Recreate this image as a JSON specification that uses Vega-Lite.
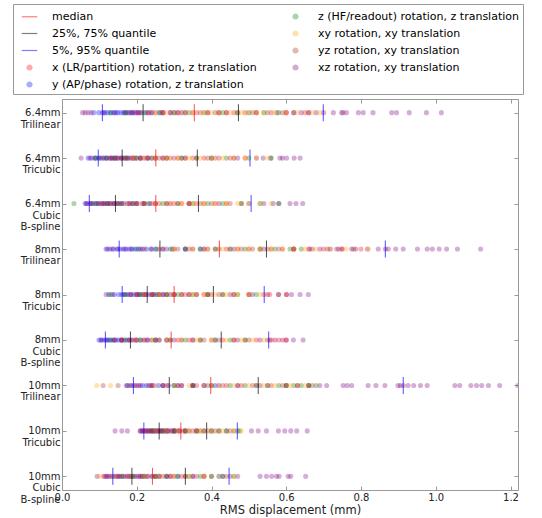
{
"$schema":"https://vega.github.io/schema/vega-lite/v6.json",
"autosize":{"type":"none"},
"width":456,"height":391,
"padding":{"left":62,"top":99,"right":24,"bottom":28},
"datasets":{
"pts":[
{"r":"A","t":"y","v":0.085},{"r":"A","t":"y","v":0.098},{"r":"A","t":"y","v":0.108},{"r":"A","t":"y","v":0.115},{"r":"A","t":"y","v":0.122},{"r":"A","t":"y","v":0.130},{"r":"A","t":"y","v":0.138},{"r":"A","t":"y","v":0.145},{"r":"A","t":"y","v":0.150},{"r":"A","t":"y","v":0.158},{"r":"A","t":"y","v":0.165},{"r":"A","t":"y","v":0.172},{"r":"A","t":"y","v":0.178},{"r":"A","t":"y","v":0.185},{"r":"A","t":"y","v":0.190},{"r":"A","t":"y","v":0.196},{"r":"A","t":"y","v":0.203},{"r":"A","t":"y","v":0.212},{"r":"A","t":"y","v":0.225},{"r":"A","t":"y","v":0.240},{"r":"A","t":"y","v":0.262},{"r":"A","t":"y","v":0.290},{"r":"A","t":"y","v":0.320},
{"r":"A","t":"xz","v":0.055},{"r":"A","t":"xz","v":0.062},{"r":"A","t":"xz","v":0.070},{"r":"A","t":"xz","v":0.078},{"r":"A","t":"xz","v":0.112},{"r":"A","t":"xz","v":0.140},{"r":"A","t":"xz","v":0.168},{"r":"A","t":"xz","v":0.188},{"r":"A","t":"xz","v":0.205},{"r":"A","t":"xz","v":0.232},{"r":"A","t":"xz","v":0.27},{"r":"A","t":"xz","v":0.31},{"r":"A","t":"xz","v":0.42},{"r":"A","t":"xz","v":0.52},{"r":"A","t":"xz","v":0.575},{"r":"A","t":"xz","v":0.60},{"r":"A","t":"xz","v":0.62},{"r":"A","t":"xz","v":0.64},{"r":"A","t":"xz","v":0.66},{"r":"A","t":"xz","v":0.68},{"r":"A","t":"xz","v":0.70},{"r":"A","t":"xz","v":0.726},{"r":"A","t":"xz","v":0.748},{"r":"A","t":"xz","v":0.752},{"r":"A","t":"xz","v":0.761},{"r":"A","t":"xz","v":0.793},{"r":"A","t":"xz","v":0.806},{"r":"A","t":"xz","v":0.832},{"r":"A","t":"xz","v":0.882},{"r":"A","t":"xz","v":0.895},{"r":"A","t":"xz","v":0.929},{"r":"A","t":"xz","v":0.975},{"r":"A","t":"xz","v":1.015},
{"r":"A","t":"x","v":0.20},{"r":"A","t":"x","v":0.23},{"r":"A","t":"x","v":0.25},{"r":"A","t":"x","v":0.27},{"r":"A","t":"x","v":0.29},{"r":"A","t":"x","v":0.31},{"r":"A","t":"x","v":0.33},{"r":"A","t":"x","v":0.35},{"r":"A","t":"x","v":0.37},{"r":"A","t":"x","v":0.39},{"r":"A","t":"x","v":0.42},{"r":"A","t":"x","v":0.44},{"r":"A","t":"x","v":0.46},{"r":"A","t":"x","v":0.49},{"r":"A","t":"x","v":0.52},{"r":"A","t":"x","v":0.56},{"r":"A","t":"x","v":0.60},{"r":"A","t":"x","v":0.65},
{"r":"A","t":"z","v":0.13},{"r":"A","t":"z","v":0.17},{"r":"A","t":"z","v":0.22},{"r":"A","t":"z","v":0.26},{"r":"A","t":"z","v":0.30},{"r":"A","t":"z","v":0.34},{"r":"A","t":"z","v":0.38},{"r":"A","t":"z","v":0.43},{"r":"A","t":"z","v":0.47},{"r":"A","t":"z","v":0.50},{"r":"A","t":"z","v":0.54},{"r":"A","t":"z","v":0.58},
{"r":"A","t":"xy","v":0.25},{"r":"A","t":"xy","v":0.28},{"r":"A","t":"xy","v":0.32},{"r":"A","t":"xy","v":0.35},{"r":"A","t":"xy","v":0.38},{"r":"A","t":"xy","v":0.40},{"r":"A","t":"xy","v":0.42},{"r":"A","t":"xy","v":0.45},{"r":"A","t":"xy","v":0.48},{"r":"A","t":"xy","v":0.50},{"r":"A","t":"xy","v":0.52},{"r":"A","t":"xy","v":0.54},{"r":"A","t":"xy","v":0.57},{"r":"A","t":"xy","v":0.60},{"r":"A","t":"xy","v":0.63},{"r":"A","t":"xy","v":0.67},{"r":"A","t":"xy","v":0.69},
{"r":"A","t":"yz","v":0.18},{"r":"A","t":"yz","v":0.21},{"r":"A","t":"yz","v":0.24},{"r":"A","t":"yz","v":0.27},{"r":"A","t":"yz","v":0.30},{"r":"A","t":"yz","v":0.33},{"r":"A","t":"yz","v":0.36},{"r":"A","t":"yz","v":0.39},{"r":"A","t":"yz","v":0.41},{"r":"A","t":"yz","v":0.44},{"r":"A","t":"yz","v":0.47},{"r":"A","t":"yz","v":0.51},{"r":"A","t":"yz","v":0.55},{"r":"A","t":"yz","v":0.59},{"r":"A","t":"yz","v":0.62},{"r":"A","t":"yz","v":0.66},

{"r":"B","t":"y","v":0.070},{"r":"B","t":"y","v":0.080},{"r":"B","t":"y","v":0.090},{"r":"B","t":"y","v":0.098},{"r":"B","t":"y","v":0.105},{"r":"B","t":"y","v":0.112},{"r":"B","t":"y","v":0.120},{"r":"B","t":"y","v":0.128},{"r":"B","t":"y","v":0.135},{"r":"B","t":"y","v":0.142},{"r":"B","t":"y","v":0.150},{"r":"B","t":"y","v":0.158},{"r":"B","t":"y","v":0.166},{"r":"B","t":"y","v":0.175},{"r":"B","t":"y","v":0.185},{"r":"B","t":"y","v":0.195},{"r":"B","t":"y","v":0.210},{"r":"B","t":"y","v":0.228},{"r":"B","t":"y","v":0.250},
{"r":"B","t":"xz","v":0.051},{"r":"B","t":"xz","v":0.075},{"r":"B","t":"xz","v":0.088},{"r":"B","t":"xz","v":0.100},{"r":"B","t":"xz","v":0.118},{"r":"B","t":"xz","v":0.132},{"r":"B","t":"xz","v":0.145},{"r":"B","t":"xz","v":0.16},{"r":"B","t":"xz","v":0.175},{"r":"B","t":"xz","v":0.19},{"r":"B","t":"xz","v":0.21},{"r":"B","t":"xz","v":0.23},{"r":"B","t":"xz","v":0.27},{"r":"B","t":"xz","v":0.32},{"r":"B","t":"xz","v":0.40},{"r":"B","t":"xz","v":0.47},{"r":"B","t":"xz","v":0.52},{"r":"B","t":"xz","v":0.538},{"r":"B","t":"xz","v":0.558},{"r":"B","t":"xz","v":0.583},{"r":"B","t":"xz","v":0.590},{"r":"B","t":"xz","v":0.601},{"r":"B","t":"xz","v":0.621},{"r":"B","t":"xz","v":0.637},
{"r":"B","t":"x","v":0.13},{"r":"B","t":"x","v":0.15},{"r":"B","t":"x","v":0.17},{"r":"B","t":"x","v":0.19},{"r":"B","t":"x","v":0.21},{"r":"B","t":"x","v":0.23},{"r":"B","t":"x","v":0.25},{"r":"B","t":"x","v":0.27},{"r":"B","t":"x","v":0.29},{"r":"B","t":"x","v":0.31},{"r":"B","t":"x","v":0.33},{"r":"B","t":"x","v":0.35},{"r":"B","t":"x","v":0.38},{"r":"B","t":"x","v":0.41},{"r":"B","t":"x","v":0.45},{"r":"B","t":"x","v":0.49},
{"r":"B","t":"z","v":0.09},{"r":"B","t":"z","v":0.12},{"r":"B","t":"z","v":0.14},{"r":"B","t":"z","v":0.17},{"r":"B","t":"z","v":0.20},{"r":"B","t":"z","v":0.24},{"r":"B","t":"z","v":0.28},{"r":"B","t":"z","v":0.32},{"r":"B","t":"z","v":0.36},{"r":"B","t":"z","v":0.40},{"r":"B","t":"z","v":0.44},{"r":"B","t":"z","v":0.50},{"r":"B","t":"z","v":0.56},
{"r":"B","t":"xy","v":0.19},{"r":"B","t":"xy","v":0.22},{"r":"B","t":"xy","v":0.25},{"r":"B","t":"xy","v":0.28},{"r":"B","t":"xy","v":0.31},{"r":"B","t":"xy","v":0.34},{"r":"B","t":"xy","v":0.37},{"r":"B","t":"xy","v":0.40},{"r":"B","t":"xy","v":0.43},{"r":"B","t":"xy","v":0.46},{"r":"B","t":"xy","v":0.49},{"r":"B","t":"xy","v":0.52},{"r":"B","t":"xy","v":0.55},
{"r":"B","t":"yz","v":0.11},{"r":"B","t":"yz","v":0.14},{"r":"B","t":"yz","v":0.16},{"r":"B","t":"yz","v":0.18},{"r":"B","t":"yz","v":0.20},{"r":"B","t":"yz","v":0.22},{"r":"B","t":"yz","v":0.24},{"r":"B","t":"yz","v":0.26},{"r":"B","t":"yz","v":0.28},{"r":"B","t":"yz","v":0.30},{"r":"B","t":"yz","v":0.33},{"r":"B","t":"yz","v":0.36},{"r":"B","t":"yz","v":0.39},{"r":"B","t":"yz","v":0.42},{"r":"B","t":"yz","v":0.46},

{"r":"C","t":"y","v":0.062},{"r":"C","t":"y","v":0.068},{"r":"C","t":"y","v":0.075},{"r":"C","t":"y","v":0.082},{"r":"C","t":"y","v":0.090},{"r":"C","t":"y","v":0.098},{"r":"C","t":"y","v":0.106},{"r":"C","t":"y","v":0.114},{"r":"C","t":"y","v":0.122},{"r":"C","t":"y","v":0.130},{"r":"C","t":"y","v":0.138},{"r":"C","t":"y","v":0.146},{"r":"C","t":"y","v":0.155},{"r":"C","t":"y","v":0.165},{"r":"C","t":"y","v":0.175},{"r":"C","t":"y","v":0.188},{"r":"C","t":"y","v":0.200},{"r":"C","t":"y","v":0.215},{"r":"C","t":"y","v":0.235},
{"r":"C","t":"xz","v":0.065},{"r":"C","t":"xz","v":0.078},{"r":"C","t":"xz","v":0.095},{"r":"C","t":"xz","v":0.110},{"r":"C","t":"xz","v":0.125},{"r":"C","t":"xz","v":0.140},{"r":"C","t":"xz","v":0.16},{"r":"C","t":"xz","v":0.18},{"r":"C","t":"xz","v":0.20},{"r":"C","t":"xz","v":0.22},{"r":"C","t":"xz","v":0.25},{"r":"C","t":"xz","v":0.29},{"r":"C","t":"xz","v":0.34},{"r":"C","t":"xz","v":0.42},{"r":"C","t":"xz","v":0.50},{"r":"C","t":"xz","v":0.54},{"r":"C","t":"xz","v":0.565},{"r":"C","t":"xz","v":0.58},{"r":"C","t":"xz","v":0.61},{"r":"C","t":"xz","v":0.626},{"r":"C","t":"xz","v":0.644},
{"r":"C","t":"x","v":0.11},{"r":"C","t":"x","v":0.13},{"r":"C","t":"x","v":0.15},{"r":"C","t":"x","v":0.18},{"r":"C","t":"x","v":0.20},{"r":"C","t":"x","v":0.22},{"r":"C","t":"x","v":0.24},{"r":"C","t":"x","v":0.26},{"r":"C","t":"x","v":0.28},{"r":"C","t":"x","v":0.30},{"r":"C","t":"x","v":0.32},{"r":"C","t":"x","v":0.34},{"r":"C","t":"x","v":0.36},{"r":"C","t":"x","v":0.38},{"r":"C","t":"x","v":0.41},{"r":"C","t":"x","v":0.44},{"r":"C","t":"x","v":0.48},
{"r":"C","t":"z","v":0.032},{"r":"C","t":"z","v":0.09},{"r":"C","t":"z","v":0.12},{"r":"C","t":"z","v":0.15},{"r":"C","t":"z","v":0.19},{"r":"C","t":"z","v":0.23},{"r":"C","t":"z","v":0.27},{"r":"C","t":"z","v":0.31},{"r":"C","t":"z","v":0.35},{"r":"C","t":"z","v":0.39},{"r":"C","t":"z","v":0.43},{"r":"C","t":"z","v":0.48},{"r":"C","t":"z","v":0.53},{"r":"C","t":"z","v":0.58},
{"r":"C","t":"xy","v":0.17},{"r":"C","t":"xy","v":0.21},{"r":"C","t":"xy","v":0.25},{"r":"C","t":"xy","v":0.29},{"r":"C","t":"xy","v":0.32},{"r":"C","t":"xy","v":0.35},{"r":"C","t":"xy","v":0.38},{"r":"C","t":"xy","v":0.41},{"r":"C","t":"xy","v":0.44},{"r":"C","t":"xy","v":0.47},{"r":"C","t":"xy","v":0.50},{"r":"C","t":"xy","v":0.53},{"r":"C","t":"xy","v":0.56},
{"r":"C","t":"yz","v":0.08},{"r":"C","t":"yz","v":0.10},{"r":"C","t":"yz","v":0.12},{"r":"C","t":"yz","v":0.14},{"r":"C","t":"yz","v":0.16},{"r":"C","t":"yz","v":0.19},{"r":"C","t":"yz","v":0.22},{"r":"C","t":"yz","v":0.25},{"r":"C","t":"yz","v":0.28},{"r":"C","t":"yz","v":0.31},{"r":"C","t":"yz","v":0.34},{"r":"C","t":"yz","v":0.37},{"r":"C","t":"yz","v":0.40},{"r":"C","t":"yz","v":0.45},

{"r":"D","t":"y","v":0.118},{"r":"D","t":"y","v":0.128},{"r":"D","t":"y","v":0.138},{"r":"D","t":"y","v":0.148},{"r":"D","t":"y","v":0.156},{"r":"D","t":"y","v":0.164},{"r":"D","t":"y","v":0.172},{"r":"D","t":"y","v":0.180},{"r":"D","t":"y","v":0.188},{"r":"D","t":"y","v":0.196},{"r":"D","t":"y","v":0.205},{"r":"D","t":"y","v":0.215},{"r":"D","t":"y","v":0.226},{"r":"D","t":"y","v":0.238},{"r":"D","t":"y","v":0.252},{"r":"D","t":"y","v":0.270},{"r":"D","t":"y","v":0.295},{"r":"D","t":"y","v":0.33},{"r":"D","t":"y","v":0.37},
{"r":"D","t":"xz","v":0.122},{"r":"D","t":"xz","v":0.135},{"r":"D","t":"xz","v":0.150},{"r":"D","t":"xz","v":0.168},{"r":"D","t":"xz","v":0.185},{"r":"D","t":"xz","v":0.21},{"r":"D","t":"xz","v":0.24},{"r":"D","t":"xz","v":0.28},{"r":"D","t":"xz","v":0.33},{"r":"D","t":"xz","v":0.39},{"r":"D","t":"xz","v":0.46},{"r":"D","t":"xz","v":0.54},{"r":"D","t":"xz","v":0.62},{"r":"D","t":"xz","v":0.663},{"r":"D","t":"xz","v":0.690},{"r":"D","t":"xz","v":0.717},{"r":"D","t":"xz","v":0.735},{"r":"D","t":"xz","v":0.748},{"r":"D","t":"xz","v":0.775},{"r":"D","t":"xz","v":0.786},{"r":"D","t":"xz","v":0.817},{"r":"D","t":"xz","v":0.846},{"r":"D","t":"xz","v":0.865},{"r":"D","t":"xz","v":0.873},{"r":"D","t":"xz","v":0.893},{"r":"D","t":"xz","v":0.913},{"r":"D","t":"xz","v":0.951},{"r":"D","t":"xz","v":0.977},{"r":"D","t":"xz","v":0.991},{"r":"D","t":"xz","v":1.009},{"r":"D","t":"xz","v":1.029},{"r":"D","t":"xz","v":1.058},{"r":"D","t":"xz","v":1.120},
{"r":"D","t":"x","v":0.26},{"r":"D","t":"x","v":0.30},{"r":"D","t":"x","v":0.34},{"r":"D","t":"x","v":0.38},{"r":"D","t":"x","v":0.41},{"r":"D","t":"x","v":0.44},{"r":"D","t":"x","v":0.47},{"r":"D","t":"x","v":0.50},{"r":"D","t":"x","v":0.53},{"r":"D","t":"x","v":0.56},{"r":"D","t":"x","v":0.59},{"r":"D","t":"x","v":0.62},{"r":"D","t":"x","v":0.66},{"r":"D","t":"x","v":0.70},{"r":"D","t":"x","v":0.75},{"r":"D","t":"x","v":0.80},
{"r":"D","t":"z","v":0.20},{"r":"D","t":"z","v":0.25},{"r":"D","t":"z","v":0.29},{"r":"D","t":"z","v":0.33},{"r":"D","t":"z","v":0.37},{"r":"D","t":"z","v":0.41},{"r":"D","t":"z","v":0.45},{"r":"D","t":"z","v":0.49},{"r":"D","t":"z","v":0.53},{"r":"D","t":"z","v":0.57},{"r":"D","t":"z","v":0.61},{"r":"D","t":"z","v":0.64},
{"r":"D","t":"xy","v":0.30},{"r":"D","t":"xy","v":0.35},{"r":"D","t":"xy","v":0.39},{"r":"D","t":"xy","v":0.43},{"r":"D","t":"xy","v":0.47},{"r":"D","t":"xy","v":0.50},{"r":"D","t":"xy","v":0.53},{"r":"D","t":"xy","v":0.56},{"r":"D","t":"xy","v":0.59},{"r":"D","t":"xy","v":0.62},{"r":"D","t":"xy","v":0.65},{"r":"D","t":"xy","v":0.68},{"r":"D","t":"xy","v":0.72},{"r":"D","t":"xy","v":0.76},{"r":"D","t":"xy","v":0.82},
{"r":"D","t":"yz","v":0.22},{"r":"D","t":"yz","v":0.27},{"r":"D","t":"yz","v":0.31},{"r":"D","t":"yz","v":0.35},{"r":"D","t":"yz","v":0.38},{"r":"D","t":"yz","v":0.42},{"r":"D","t":"yz","v":0.45},{"r":"D","t":"yz","v":0.48},{"r":"D","t":"yz","v":0.51},{"r":"D","t":"yz","v":0.55},{"r":"D","t":"yz","v":0.58},{"r":"D","t":"yz","v":0.62},{"r":"D","t":"yz","v":0.67},{"r":"D","t":"yz","v":0.71},{"r":"D","t":"yz","v":0.74},{"r":"D","t":"yz","v":0.78},

{"r":"E","t":"y","v":0.125},{"r":"E","t":"y","v":0.140},{"r":"E","t":"y","v":0.152},{"r":"E","t":"y","v":0.160},{"r":"E","t":"y","v":0.168},{"r":"E","t":"y","v":0.176},{"r":"E","t":"y","v":0.184},{"r":"E","t":"y","v":0.192},{"r":"E","t":"y","v":0.200},{"r":"E","t":"y","v":0.208},{"r":"E","t":"y","v":0.216},{"r":"E","t":"y","v":0.224},{"r":"E","t":"y","v":0.232},{"r":"E","t":"y","v":0.242},{"r":"E","t":"y","v":0.255},{"r":"E","t":"y","v":0.270},{"r":"E","t":"y","v":0.29},{"r":"E","t":"y","v":0.32},
{"r":"E","t":"xz","v":0.118},{"r":"E","t":"xz","v":0.135},{"r":"E","t":"xz","v":0.165},{"r":"E","t":"xz","v":0.185},{"r":"E","t":"xz","v":0.205},{"r":"E","t":"xz","v":0.225},{"r":"E","t":"xz","v":0.245},{"r":"E","t":"xz","v":0.27},{"r":"E","t":"xz","v":0.30},{"r":"E","t":"xz","v":0.34},{"r":"E","t":"xz","v":0.39},{"r":"E","t":"xz","v":0.45},{"r":"E","t":"xz","v":0.51},{"r":"E","t":"xz","v":0.55},{"r":"E","t":"xz","v":0.579},{"r":"E","t":"xz","v":0.601},{"r":"E","t":"xz","v":0.614},{"r":"E","t":"xz","v":0.637},{"r":"E","t":"xz","v":0.659},
{"r":"E","t":"x","v":0.20},{"r":"E","t":"x","v":0.22},{"r":"E","t":"x","v":0.24},{"r":"E","t":"x","v":0.26},{"r":"E","t":"x","v":0.28},{"r":"E","t":"x","v":0.30},{"r":"E","t":"x","v":0.32},{"r":"E","t":"x","v":0.34},{"r":"E","t":"x","v":0.36},{"r":"E","t":"x","v":0.38},{"r":"E","t":"x","v":0.40},{"r":"E","t":"x","v":0.43},{"r":"E","t":"x","v":0.46},{"r":"E","t":"x","v":0.50},{"r":"E","t":"x","v":0.54},{"r":"E","t":"x","v":0.556},{"r":"E","t":"x","v":0.60},
{"r":"E","t":"z","v":0.13},{"r":"E","t":"z","v":0.17},{"r":"E","t":"z","v":0.21},{"r":"E","t":"z","v":0.25},{"r":"E","t":"z","v":0.28},{"r":"E","t":"z","v":0.31},{"r":"E","t":"z","v":0.35},{"r":"E","t":"z","v":0.39},{"r":"E","t":"z","v":0.43},{"r":"E","t":"z","v":0.47},{"r":"E","t":"z","v":0.52},
{"r":"E","t":"xy","v":0.22},{"r":"E","t":"xy","v":0.26},{"r":"E","t":"xy","v":0.29},{"r":"E","t":"xy","v":0.32},{"r":"E","t":"xy","v":0.35},{"r":"E","t":"xy","v":0.38},{"r":"E","t":"xy","v":0.41},{"r":"E","t":"xy","v":0.44},{"r":"E","t":"xy","v":0.47},{"r":"E","t":"xy","v":0.50},{"r":"E","t":"xy","v":0.53},
{"r":"E","t":"yz","v":0.18},{"r":"E","t":"yz","v":0.20},{"r":"E","t":"yz","v":0.22},{"r":"E","t":"yz","v":0.24},{"r":"E","t":"yz","v":0.26},{"r":"E","t":"yz","v":0.28},{"r":"E","t":"yz","v":0.30},{"r":"E","t":"yz","v":0.33},{"r":"E","t":"yz","v":0.36},{"r":"E","t":"yz","v":0.39},{"r":"E","t":"yz","v":0.42},{"r":"E","t":"yz","v":0.46},{"r":"E","t":"yz","v":0.50},{"r":"E","t":"yz","v":0.58},

{"r":"F","t":"y","v":0.099},{"r":"F","t":"y","v":0.106},{"r":"F","t":"y","v":0.112},{"r":"F","t":"y","v":0.118},{"r":"F","t":"y","v":0.124},{"r":"F","t":"y","v":0.130},{"r":"F","t":"y","v":0.137},{"r":"F","t":"y","v":0.144},{"r":"F","t":"y","v":0.151},{"r":"F","t":"y","v":0.158},{"r":"F","t":"y","v":0.166},{"r":"F","t":"y","v":0.175},{"r":"F","t":"y","v":0.185},{"r":"F","t":"y","v":0.196},{"r":"F","t":"y","v":0.210},{"r":"F","t":"y","v":0.228},{"r":"F","t":"y","v":0.25},{"r":"F","t":"y","v":0.28},
{"r":"F","t":"xz","v":0.104},{"r":"F","t":"xz","v":0.120},{"r":"F","t":"xz","v":0.140},{"r":"F","t":"xz","v":0.16},{"r":"F","t":"xz","v":0.18},{"r":"F","t":"xz","v":0.20},{"r":"F","t":"xz","v":0.23},{"r":"F","t":"xz","v":0.26},{"r":"F","t":"xz","v":0.30},{"r":"F","t":"xz","v":0.35},{"r":"F","t":"xz","v":0.41},{"r":"F","t":"xz","v":0.47},{"r":"F","t":"xz","v":0.53},{"r":"F","t":"xz","v":0.556},{"r":"F","t":"xz","v":0.57},{"r":"F","t":"xz","v":0.59},{"r":"F","t":"xz","v":0.60},{"r":"F","t":"xz","v":0.619},{"r":"F","t":"xz","v":0.645},
{"r":"F","t":"x","v":0.16},{"r":"F","t":"x","v":0.19},{"r":"F","t":"x","v":0.22},{"r":"F","t":"x","v":0.25},{"r":"F","t":"x","v":0.28},{"r":"F","t":"x","v":0.31},{"r":"F","t":"x","v":0.34},{"r":"F","t":"x","v":0.37},{"r":"F","t":"x","v":0.40},{"r":"F","t":"x","v":0.43},{"r":"F","t":"x","v":0.46},{"r":"F","t":"x","v":0.49},{"r":"F","t":"x","v":0.52},{"r":"F","t":"x","v":0.56},{"r":"F","t":"x","v":0.58},{"r":"F","t":"x","v":0.60},
{"r":"F","t":"z","v":0.13},{"r":"F","t":"z","v":0.17},{"r":"F","t":"z","v":0.21},{"r":"F","t":"z","v":0.25},{"r":"F","t":"z","v":0.29},{"r":"F","t":"z","v":0.33},{"r":"F","t":"z","v":0.37},{"r":"F","t":"z","v":0.41},{"r":"F","t":"z","v":0.45},{"r":"F","t":"z","v":0.49},
{"r":"F","t":"xy","v":0.20},{"r":"F","t":"xy","v":0.24},{"r":"F","t":"xy","v":0.28},{"r":"F","t":"xy","v":0.32},{"r":"F","t":"xy","v":0.36},{"r":"F","t":"xy","v":0.40},{"r":"F","t":"xy","v":0.44},{"r":"F","t":"xy","v":0.48},{"r":"F","t":"xy","v":0.51},{"r":"F","t":"xy","v":0.54},
{"r":"F","t":"yz","v":0.14},{"r":"F","t":"yz","v":0.16},{"r":"F","t":"yz","v":0.18},{"r":"F","t":"yz","v":0.20},{"r":"F","t":"yz","v":0.22},{"r":"F","t":"yz","v":0.24},{"r":"F","t":"yz","v":0.26},{"r":"F","t":"yz","v":0.29},{"r":"F","t":"yz","v":0.32},{"r":"F","t":"yz","v":0.35},{"r":"F","t":"yz","v":0.38},{"r":"F","t":"yz","v":0.42},{"r":"F","t":"yz","v":0.46},{"r":"F","t":"yz","v":0.50},{"r":"F","t":"yz","v":0.55},

{"r":"G","t":"y","v":0.175},{"r":"G","t":"y","v":0.185},{"r":"G","t":"y","v":0.195},{"r":"G","t":"y","v":0.205},{"r":"G","t":"y","v":0.215},{"r":"G","t":"y","v":0.225},{"r":"G","t":"y","v":0.235},{"r":"G","t":"y","v":0.245},{"r":"G","t":"y","v":0.258},{"r":"G","t":"y","v":0.270},{"r":"G","t":"y","v":0.285},{"r":"G","t":"y","v":0.30},{"r":"G","t":"y","v":0.32},{"r":"G","t":"y","v":0.35},{"r":"G","t":"y","v":0.38},{"r":"G","t":"y","v":0.41},
{"r":"G","t":"xz","v":0.172},{"r":"G","t":"xz","v":0.19},{"r":"G","t":"xz","v":0.21},{"r":"G","t":"xz","v":0.24},{"r":"G","t":"xz","v":0.27},{"r":"G","t":"xz","v":0.31},{"r":"G","t":"xz","v":0.35},{"r":"G","t":"xz","v":0.38},{"r":"G","t":"xz","v":0.42},{"r":"G","t":"xz","v":0.47},{"r":"G","t":"xz","v":0.53},{"r":"G","t":"xz","v":0.60},{"r":"G","t":"xz","v":0.66},{"r":"G","t":"xz","v":0.690},{"r":"G","t":"xz","v":0.708},{"r":"G","t":"xz","v":0.752},{"r":"G","t":"xz","v":0.763},{"r":"G","t":"xz","v":0.775},{"r":"G","t":"xz","v":0.819},{"r":"G","t":"xz","v":0.840},{"r":"G","t":"xz","v":0.864},{"r":"G","t":"xz","v":0.899},{"r":"G","t":"xz","v":0.905},{"r":"G","t":"xz","v":0.913},{"r":"G","t":"xz","v":0.926},{"r":"G","t":"xz","v":0.941},{"r":"G","t":"xz","v":0.959},{"r":"G","t":"xz","v":0.977},{"r":"G","t":"xz","v":1.051},{"r":"G","t":"xz","v":1.064},{"r":"G","t":"xz","v":1.094},{"r":"G","t":"xz","v":1.109},{"r":"G","t":"xz","v":1.123},{"r":"G","t":"xz","v":1.141},{"r":"G","t":"xz","v":1.171},{"r":"G","t":"xz","v":1.220},
{"r":"G","t":"x","v":0.20},{"r":"G","t":"x","v":0.24},{"r":"G","t":"x","v":0.28},{"r":"G","t":"x","v":0.32},{"r":"G","t":"x","v":0.36},{"r":"G","t":"x","v":0.40},{"r":"G","t":"x","v":0.44},{"r":"G","t":"x","v":0.48},{"r":"G","t":"x","v":0.52},{"r":"G","t":"x","v":0.56},{"r":"G","t":"x","v":0.60},{"r":"G","t":"x","v":0.63},{"r":"G","t":"x","v":0.66},
{"r":"G","t":"z","v":0.30},{"r":"G","t":"z","v":0.35},{"r":"G","t":"z","v":0.40},{"r":"G","t":"z","v":0.45},{"r":"G","t":"z","v":0.49},{"r":"G","t":"z","v":0.52},{"r":"G","t":"z","v":0.55},{"r":"G","t":"z","v":0.58},{"r":"G","t":"z","v":0.60},{"r":"G","t":"z","v":0.62},{"r":"G","t":"z","v":0.64},{"r":"G","t":"z","v":0.66},{"r":"G","t":"z","v":0.68},
{"r":"G","t":"xy","v":0.093},{"r":"G","t":"xy","v":0.13},{"r":"G","t":"xy","v":0.25},{"r":"G","t":"xy","v":0.30},{"r":"G","t":"xy","v":0.34},{"r":"G","t":"xy","v":0.38},{"r":"G","t":"xy","v":0.42},{"r":"G","t":"xy","v":0.46},{"r":"G","t":"xy","v":0.50},{"r":"G","t":"xy","v":0.54},{"r":"G","t":"xy","v":0.57},{"r":"G","t":"xy","v":0.61},{"r":"G","t":"xy","v":0.65},
{"r":"G","t":"yz","v":0.11},{"r":"G","t":"yz","v":0.15},{"r":"G","t":"yz","v":0.18},{"r":"G","t":"yz","v":0.23},{"r":"G","t":"yz","v":0.27},{"r":"G","t":"yz","v":0.31},{"r":"G","t":"yz","v":0.35},{"r":"G","t":"yz","v":0.39},{"r":"G","t":"yz","v":0.43},{"r":"G","t":"yz","v":0.47},{"r":"G","t":"yz","v":0.51},{"r":"G","t":"yz","v":0.55},{"r":"G","t":"yz","v":0.59},{"r":"G","t":"yz","v":0.63},{"r":"G","t":"yz","v":0.67},

{"r":"H","t":"y","v":0.209},{"r":"H","t":"y","v":0.214},{"r":"H","t":"y","v":0.220},{"r":"H","t":"y","v":0.226},{"r":"H","t":"y","v":0.232},{"r":"H","t":"y","v":0.238},{"r":"H","t":"y","v":0.244},{"r":"H","t":"y","v":0.250},{"r":"H","t":"y","v":0.256},{"r":"H","t":"y","v":0.262},{"r":"H","t":"y","v":0.268},{"r":"H","t":"y","v":0.275},{"r":"H","t":"y","v":0.283},{"r":"H","t":"y","v":0.292},{"r":"H","t":"y","v":0.302},{"r":"H","t":"y","v":0.315},
{"r":"H","t":"xz","v":0.142},{"r":"H","t":"xz","v":0.16},{"r":"H","t":"xz","v":0.175},{"r":"H","t":"xz","v":0.215},{"r":"H","t":"xz","v":0.23},{"r":"H","t":"xz","v":0.245},{"r":"H","t":"xz","v":0.26},{"r":"H","t":"xz","v":0.28},{"r":"H","t":"xz","v":0.30},{"r":"H","t":"xz","v":0.33},{"r":"H","t":"xz","v":0.36},{"r":"H","t":"xz","v":0.40},{"r":"H","t":"xz","v":0.44},{"r":"H","t":"xz","v":0.47},{"r":"H","t":"xz","v":0.507},{"r":"H","t":"xz","v":0.525},{"r":"H","t":"xz","v":0.547},{"r":"H","t":"xz","v":0.579},{"r":"H","t":"xz","v":0.596},{"r":"H","t":"xz","v":0.612},{"r":"H","t":"xz","v":0.628},{"r":"H","t":"xz","v":0.656},
{"r":"H","t":"x","v":0.21},{"r":"H","t":"x","v":0.225},{"r":"H","t":"x","v":0.24},{"r":"H","t":"x","v":0.255},{"r":"H","t":"x","v":0.27},{"r":"H","t":"x","v":0.285},{"r":"H","t":"x","v":0.30},{"r":"H","t":"x","v":0.315},{"r":"H","t":"x","v":0.33},{"r":"H","t":"x","v":0.35},{"r":"H","t":"x","v":0.37},{"r":"H","t":"x","v":0.39},{"r":"H","t":"x","v":0.42},{"r":"H","t":"x","v":0.45},
{"r":"H","t":"z","v":0.24},{"r":"H","t":"z","v":0.27},{"r":"H","t":"z","v":0.30},{"r":"H","t":"z","v":0.33},{"r":"H","t":"z","v":0.36},{"r":"H","t":"z","v":0.38},{"r":"H","t":"z","v":0.40},{"r":"H","t":"z","v":0.42},{"r":"H","t":"z","v":0.44},{"r":"H","t":"z","v":0.46},{"r":"H","t":"z","v":0.475},
{"r":"H","t":"xy","v":0.25},{"r":"H","t":"xy","v":0.28},{"r":"H","t":"xy","v":0.31},{"r":"H","t":"xy","v":0.34},{"r":"H","t":"xy","v":0.37},{"r":"H","t":"xy","v":0.40},{"r":"H","t":"xy","v":0.43},{"r":"H","t":"xy","v":0.46},{"r":"H","t":"xy","v":0.48},
{"r":"H","t":"yz","v":0.22},{"r":"H","t":"yz","v":0.235},{"r":"H","t":"yz","v":0.25},{"r":"H","t":"yz","v":0.265},{"r":"H","t":"yz","v":0.28},{"r":"H","t":"yz","v":0.295},{"r":"H","t":"yz","v":0.31},{"r":"H","t":"yz","v":0.325},{"r":"H","t":"yz","v":0.34},{"r":"H","t":"yz","v":0.36},{"r":"H","t":"yz","v":0.38},{"r":"H","t":"yz","v":0.41},

{"r":"I","t":"y","v":0.115},{"r":"I","t":"y","v":0.125},{"r":"I","t":"y","v":0.135},{"r":"I","t":"y","v":0.145},{"r":"I","t":"y","v":0.155},{"r":"I","t":"y","v":0.165},{"r":"I","t":"y","v":0.175},{"r":"I","t":"y","v":0.185},{"r":"I","t":"y","v":0.195},{"r":"I","t":"y","v":0.205},{"r":"I","t":"y","v":0.215},{"r":"I","t":"y","v":0.228},{"r":"I","t":"y","v":0.242},{"r":"I","t":"y","v":0.26},{"r":"I","t":"y","v":0.28},{"r":"I","t":"y","v":0.31},{"r":"I","t":"y","v":0.35},{"r":"I","t":"y","v":0.42},
{"r":"I","t":"xz","v":0.094},{"r":"I","t":"xz","v":0.12},{"r":"I","t":"xz","v":0.15},{"r":"I","t":"xz","v":0.18},{"r":"I","t":"xz","v":0.21},{"r":"I","t":"xz","v":0.25},{"r":"I","t":"xz","v":0.29},{"r":"I","t":"xz","v":0.33},{"r":"I","t":"xz","v":0.38},{"r":"I","t":"xz","v":0.43},{"r":"I","t":"xz","v":0.45},{"r":"I","t":"xz","v":0.47},{"r":"I","t":"xz","v":0.530},{"r":"I","t":"xz","v":0.547},{"r":"I","t":"xz","v":0.561},{"r":"I","t":"xz","v":0.574},{"r":"I","t":"xz","v":0.581},{"r":"I","t":"xz","v":0.605},{"r":"I","t":"xz","v":0.612},{"r":"I","t":"xz","v":0.652},
{"r":"I","t":"x","v":0.111},{"r":"I","t":"x","v":0.13},{"r":"I","t":"x","v":0.15},{"r":"I","t":"x","v":0.17},{"r":"I","t":"x","v":0.19},{"r":"I","t":"x","v":0.21},{"r":"I","t":"x","v":0.23},{"r":"I","t":"x","v":0.25},{"r":"I","t":"x","v":0.27},{"r":"I","t":"x","v":0.29},{"r":"I","t":"x","v":0.32},{"r":"I","t":"x","v":0.35},{"r":"I","t":"x","v":0.38},
{"r":"I","t":"z","v":0.16},{"r":"I","t":"z","v":0.19},{"r":"I","t":"z","v":0.22},{"r":"I","t":"z","v":0.25},{"r":"I","t":"z","v":0.28},{"r":"I","t":"z","v":0.31},{"r":"I","t":"z","v":0.34},{"r":"I","t":"z","v":0.37},{"r":"I","t":"z","v":0.40},{"r":"I","t":"z","v":0.43},{"r":"I","t":"z","v":0.46},
{"r":"I","t":"xy","v":0.10},{"r":"I","t":"xy","v":0.14},{"r":"I","t":"xy","v":0.18},{"r":"I","t":"xy","v":0.22},{"r":"I","t":"xy","v":0.26},{"r":"I","t":"xy","v":0.30},{"r":"I","t":"xy","v":0.34},{"r":"I","t":"xy","v":0.38},{"r":"I","t":"xy","v":0.42},{"r":"I","t":"xy","v":0.46},
{"r":"I","t":"yz","v":0.12},{"r":"I","t":"yz","v":0.14},{"r":"I","t":"yz","v":0.16},{"r":"I","t":"yz","v":0.18},{"r":"I","t":"yz","v":0.20},{"r":"I","t":"yz","v":0.22},{"r":"I","t":"yz","v":0.24},{"r":"I","t":"yz","v":0.26},{"r":"I","t":"yz","v":0.28},{"r":"I","t":"yz","v":0.30},{"r":"I","t":"yz","v":0.33},{"r":"I","t":"yz","v":0.36},{"r":"I","t":"yz","v":0.40},{"r":"I","t":"yz","v":0.44}
],
"qs":[
{"r":"A","t":"q5","v":0.108},{"r":"A","t":"q5","v":0.699},{"r":"A","t":"q25","v":0.217},{"r":"A","t":"q25","v":0.472},{"r":"A","t":"median","v":0.354},
{"r":"B","t":"q5","v":0.097},{"r":"B","t":"q5","v":0.503},{"r":"B","t":"q25","v":0.161},{"r":"B","t":"q25","v":0.362},{"r":"B","t":"median","v":0.251},
{"r":"C","t":"q5","v":0.073},{"r":"C","t":"q5","v":0.506},{"r":"C","t":"q25","v":0.143},{"r":"C","t":"q25","v":0.365},{"r":"C","t":"median","v":0.251},
{"r":"D","t":"q5","v":0.153},{"r":"D","t":"q5","v":0.865},{"r":"D","t":"q25","v":0.262},{"r":"D","t":"q25","v":0.547},{"r":"D","t":"median","v":0.421},
{"r":"E","t":"q5","v":0.161},{"r":"E","t":"q5","v":0.541},{"r":"E","t":"q25","v":0.228},{"r":"E","t":"q25","v":0.405},{"r":"E","t":"median","v":0.300},
{"r":"F","t":"q5","v":0.116},{"r":"F","t":"q5","v":0.553},{"r":"F","t":"q25","v":0.183},{"r":"F","t":"q25","v":0.426},{"r":"F","t":"median","v":0.292},
{"r":"G","t":"q5","v":0.191},{"r":"G","t":"q5","v":0.913},{"r":"G","t":"q25","v":0.287},{"r":"G","t":"q25","v":0.525},{"r":"G","t":"median","v":0.398},
{"r":"H","t":"q5","v":0.219},{"r":"H","t":"q5","v":0.469},{"r":"H","t":"q25","v":0.260},{"r":"H","t":"q25","v":0.387},{"r":"H","t":"median","v":0.318},
{"r":"I","t":"q5","v":0.136},{"r":"I","t":"q5","v":0.447},{"r":"I","t":"q25","v":0.187},{"r":"I","t":"q25","v":0.330},{"r":"I","t":"median","v":0.242}
]
},
"layer":[
{
"data":{"name":"pts"},
"mark":{"type":"circle","size":26,"opacity":0.32,"clip":true},
"encoding":{
"x":{"field":"v","type":"quantitative","scale":{"domain":[0,1.22],"nice":false,"zero":false},
"axis":{"orient":"bottom","title":"RMS displacement (mm)","values":[0,0.2,0.4,0.6,0.8,1.0,1.2],"format":".1f","tickSize":-4,"labelPadding":6,"titlePadding":2,"labelFlush":false}},
"y":{"field":"r","type":"nominal","scale":{"type":"point","padding":0.3,"domain":["A","B","C","D","E","F","G","H","I"]},
"axis":{"orient":"left","title":null,"tickSize":-4,"labelPadding":6,"labelLineHeight":11.5,"labelAlign":"right",
"labelExpr":"{'A':['6.4mm','Trilinear'],'B':['6.4mm','Tricubic'],'C':['6.4mm','Cubic','B-spline'],'D':['8mm','Trilinear'],'E':['8mm','Tricubic'],'F':['8mm','Cubic','B-spline'],'G':['10mm','Trilinear'],'H':['10mm','Tricubic'],'I':['10mm','Cubic','B-spline']}[datum.value]"}},
"color":{"field":"t","type":"nominal","title":null,
"scale":{"domain":["median","q25","q5","x","y","z","xy","yz","xz"],"range":["#ff0000","#000000","#0000ff","#ff0000","#0000ff","#008000","#ffa500","#a52a2a","#800080"]},
"legend":{"orient":"none","legendX":-49,"legendY":-95,"columns":2,"title":null,
"labelExpr":"{'median':'median','q25':'25%, 75% quantile','q5':'5%, 95% quantile','x':'x (LR/partition) rotation, z translation','y':'y (AP/phase) rotation, z translation','z':'z (HF/readout) rotation, z translation','xy':'xy rotation, xy translation','yz':'yz rotation, xy translation','xz':'xz rotation, xy translation'}[datum.value]",
"labelFont":"DejaVu Sans","labelFontSize":11,"labelColor":"#000","labelLimit":400,
"symbolSize":240,"strokeColor":"#999","fillColor":"#fff","padding":4,"rowPadding":3,"columnPadding":26,"labelOffset":14,"symbolOffset":4,
"symbolType":{"expr":"indexof(['median','q25','q5'],datum.value)>=0?'stroke':'M-0.4,0A0.4,0.4,0,1,0,0.4,0A0.4,0.4,0,1,0,-0.4,0Z'"},
"symbolStrokeColor":{"expr":"indexof(['median','q25','q5'],datum.value)>=0?scale('color',datum.value):'transparent'"},
"symbolStrokeWidth":1.2,
"symbolOpacity":{"expr":"indexof(['median','q25','q5'],datum.value)>=0?0.5:0.33"}}}
}
},
{
"data":{"name":"qs"},
"mark":{"type":"tick","thickness":1,"size":17,"opacity":0.7},
"encoding":{
"x":{"field":"v","type":"quantitative","axis":{"orient":"top","title":null,"labels":false,"values":[0,0.2,0.4,0.6,0.8,1.0,1.2],"tickSize":-4}},
"y":{"field":"r","type":"nominal","axis":{"orient":"right","title":null,"labels":false,"tickSize":-4}},
"color":{"field":"t","type":"nominal","title":null,"legend":null}
}
}
],
"resolve":{"axis":{"x":"independent","y":"independent"}},
"config":{
"font":"DejaVu Sans",
"view":{"stroke":"#999","strokeWidth":1},
"axis":{"labelFont":"DejaVu Sans","titleFont":"DejaVu Sans","labelFontSize":10,"titleFontSize":11.5,"titleFontWeight":"normal","labelColor":"#222","titleColor":"#222","tickColor":"#999","domain":false,"grid":false}
}
}
